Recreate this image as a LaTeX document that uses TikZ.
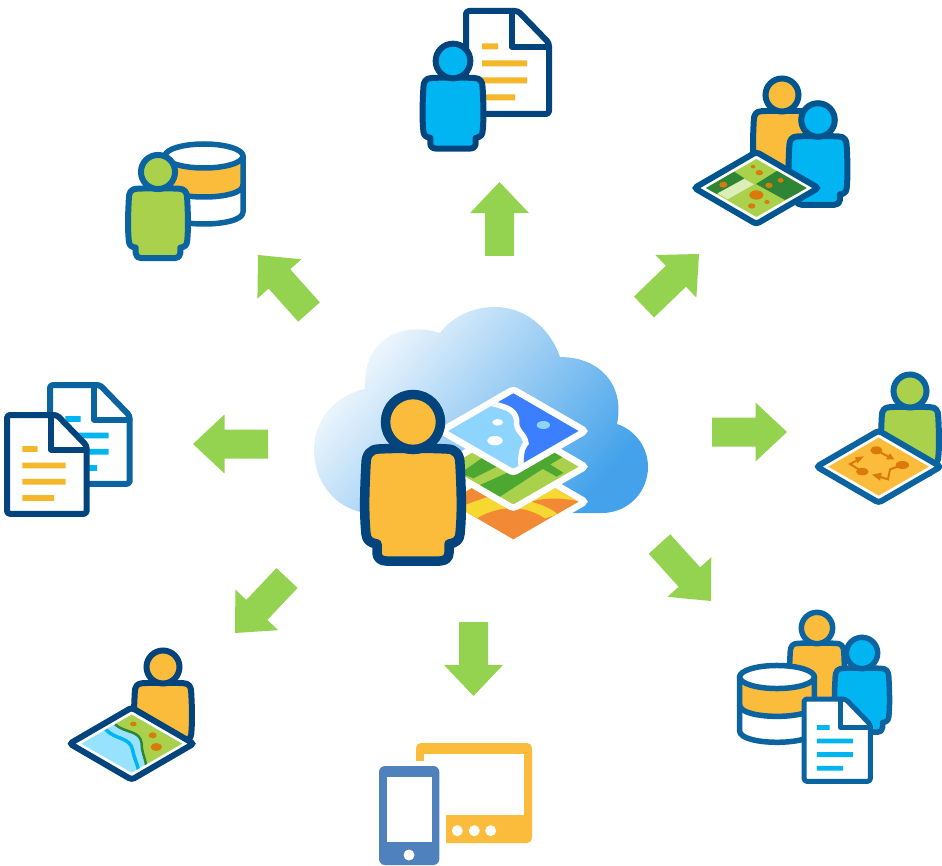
\documentclass[tikz,border=0pt]{standalone}
\usetikzlibrary{calc}
\definecolor{navy}{HTML}{03447C}
\definecolor{midblue}{HTML}{0B64A0}
\definecolor{deepblue}{HTML}{00558F}
\definecolor{orangefill}{HTML}{FBBC3C}
\definecolor{cyanfill}{HTML}{00B5F1}
\definecolor{greenfill}{HTML}{A9D14B}
\definecolor{darkgreen}{HTML}{2E8536}
\definecolor{roadgreen}{HTML}{4DA832}
\definecolor{dotorange}{HTML}{D97A0B}
\definecolor{arrowgreen}{HTML}{94D350}
\definecolor{lineyellow}{HTML}{F5B72A}
\definecolor{lakeblue}{HTML}{8DD4FF}
\definecolor{seablue}{HTML}{3B7EFF}
\definecolor{paleblue}{HTML}{97E2FF}
\definecolor{landorange}{HTML}{F28A35}
\definecolor{landyellow}{HTML}{F5D832}
\definecolor{phoneblue}{HTML}{4F81BD}
\definecolor{cloudlight}{HTML}{F8FBFE}
\definecolor{clouddark}{HTML}{44A2EA}
\tikzset{
  blockfill/.style={fill=arrowgreen},
  outline/.style={line join=round,line cap=round},
  stacklayer/.style={line width=6.5pt,draw=white,rounded corners=3pt},
}
% tail, tip
\newcommand{\blockarrow}[2]{%
  \path (#1) coordinate (T) (#2) coordinate (H);
  \coordinate (N) at ($(T)!0.58!(H)$);
  \fill[blockfill] ($(T)!14.5pt!90:(H)$) -- ($(N)!14.5pt!90:(H)$) -- ($(N)!29.5pt!90:(H)$) -- (H)
     -- ($(N)!29.5pt!-90:(H)$) -- ($(N)!14.5pt!-90:(H)$) -- ($(T)!14.5pt!-90:(H)$) -- cycle;
}
% x y scale lw fill stroke
\newcommand{\person}[6]{%
  \begin{scope}[shift={(#1,#2)},scale=#3]
    \filldraw[outline,line width=#4,draw=#6,fill=#5]
      (-34,27) .. controls (-16,26) and (16,26) .. (34,27)
      .. controls (43,27) and (47,33) .. (47,42)
      .. controls (48.5,70) and (49,92) .. (47,112)
      .. controls (46.5,118) and (43,121) .. (36,122)
      -- (36,131) .. controls (36,136) and (32,139) .. (27,139)
      -- (-27,139) .. controls (-32,139) and (-36,136) .. (-36,131)
      -- (-36,122) .. controls (-43,121) and (-46.5,118) .. (-47,112)
      .. controls (-49,92) and (-48.5,70) .. (-47,42)
      .. controls (-47,33) and (-43,27) .. (-34,27) -- cycle;
    \filldraw[line width=#4,draw=#6,fill=#5] (0,0) circle (27.5);
  \end{scope}}
% x y scale lw stroke linecolor
\newcommand{\docicon}[6]{%
  \begin{scope}[shift={(#1,#2)},scale=#3]
    \filldraw[outline,line width=#4,draw=#5,fill=white,rounded corners=3pt]
      (0,0) -- (52,0) -- (83,32) -- (83,103) -- (0,103) -- cycle;
    \draw[outline,line width=#4,draw=#5] (46,0) -- (46,36) -- (83,36);
    \fill[#6] (16,32.5) rectangle (32,38.5) (16,49.5) rectangle (61,55.5)
              (16,66.5) rectangle (61,72.5) (16,83.5) rectangle (49,89.5);
  \end{scope}}
% cx topy scale lw stroke
\newcommand{\dbicon}[5]{%
  \begin{scope}[shift={(#1,#2)},scale=#3]
    \fill[orangefill] (-39,0) .. controls (-39,16) and (39,16) .. (39,0) -- (39,29) .. controls (39,45) and (-39,45) .. (-39,29) -- cycle;
    \filldraw[outline,line width=#4,draw=#5,fill=white] (0,0) ellipse (39 and 12);
    \draw[outline,line width=#4,draw=#5] (-39,0) -- (-39,56) .. controls (-39,72) and (39,72) .. (39,56) -- (39,0);
    \draw[outline,line width=#4,draw=#5] (-39,29) .. controls (-39,45) and (39,45) .. (39,29);
  \end{scope}}
% cx cy stroke body  (coordinates in the scope are zoom units)
\newcommand{\mapd}[4]{%
  \filldraw[line width=6pt,draw=#3,fill=white,rounded corners=3pt]
    (#1-186,#2) -- (#1,#2-108) -- (#1+186,#2) -- (#1,#2+108) -- cycle;
  \begin{scope}
    \clip (#1-151,#2) -- (#1,#2-87) -- (#1+151,#2) -- (#1,#2+87) -- cycle;
    #4
  \end{scope}}
\newcommand{\mapdot}[3]{\fill[dotorange] (#1,#2) ellipse (#3);}
\begin{document}
\begin{tikzpicture}[x=1pt,y=-1pt]
\useasboundingbox (0,0) rectangle (942,866);

% ---------- block arrows
\blockarrow{499.5,256}{499.5,182}
\blockarrow{473.5,622}{473.5,696}
\blockarrow{712,432}{787,432}
\blockarrow{268,444}{193,444}
\blockarrow{644,307}{699,254}
\blockarrow{309,312}{258,255}
\blockarrow{659.5,544}{711,601}
\blockarrow{287,578}{235,633}

% ---------- cloud
\shade[left color=cloudlight,right color=clouddark,shading angle=50]
  (365,389) .. controls (335,395) and (314,420) .. (314,450)
  .. controls (314,482) and (335,508) .. (365,513) -- (602,513)
  .. controls (628,513) and (648,492) .. (648,467)
  .. controls (648,447) and (635,430) .. (617,424)
  .. controls (625,385) and (600,357) .. (560,357)
  .. controls (550,328) and (525,307) .. (495,307)
  .. controls (472,307) and (452,317) .. (440,333)
  .. controls (405,322) and (363,335) .. (365,389) -- cycle;

% ---------- central map stack (zoom units)
\begin{scope}[shift={(300,300)},scale=1/3]
  % bottom layer
  \filldraw[stacklayer,fill=white]
    (424,605) -- (640,480) -- (856,605) -- (640,730) -- cycle;
  \begin{scope}
    \clip (445,605) -- (640,492) -- (835,605) -- (640,718) -- cycle;
    \fill[landorange] (430,470) rectangle (850,730);
    \fill[landyellow] (470,625) .. controls (530,600) and (570,592) .. (640,560)
       -- (850,470) -- (850,610) -- (775,642) -- (735,655)
       .. controls (660,605) and (580,625) .. (530,655) -- (470,640) -- cycle;
    \fill[landorange] (695,605) .. controls (740,590) and (800,595) .. (840,605)
       -- (780,650) .. controls (765,630) and (730,615) .. (695,605) -- cycle;
  \end{scope}
  % middle layer
  \filldraw[stacklayer,fill=greenfill]
    (424,500) -- (640,375) -- (856,500) -- (640,625) -- cycle;
  \begin{scope}
    \clip (445,500) -- (640,387) -- (835,500) -- (640,613) -- cycle;
    \fill[roadgreen] (480,520) -- (545,475) -- (590,500) -- (520,535) -- (495,525) -- cycle;
    \fill[roadgreen] (540,555) -- (640,510) -- (765,458) -- (790,470) -- (712,517) -- (600,590) -- cycle;
    \fill[roadgreen] (725,505) -- (745,490) -- (790,518) -- (770,530) -- cycle;
  \end{scope}
  % top layer
  \filldraw[stacklayer,fill=lakeblue]
    (424,393) -- (640,268) -- (856,393) -- (640,518) -- cycle;
  \begin{scope}
    \clip (445,393) -- (640,280) -- (835,393) -- (640,506) -- cycle;
    \fill[seablue] (585,305) .. controls (620,320) and (650,325) .. (655,360)
      .. controls (650,395) and (680,400) .. (682,430)
      .. controls (670,450) and (672,480) .. (672,500) -- (850,500) -- (850,280) -- (585,280) -- cycle;
    \draw[white,line width=5.5pt] (575,310) .. controls (610,320) and (645,325) .. (650,360)
      .. controls (645,395) and (675,400) .. (678,430)
      .. controls (660,450) and (662,480) .. (664,510);
    \fill[white] (593,367) ellipse (16 and 10) (585,422) ellipse (23 and 14);
    \fill[lakeblue] (730,375) ellipse (20 and 12);
  \end{scope}
\end{scope}
\person{413}{422}{1}{9.5pt}{orangefill}{navy}

% ---------- top: person and document
\docicon{466}{11}{1}{6pt}{navy}{lineyellow}
\person{453}{61}{0.63}{6pt}{cyanfill}{navy}

% ---------- top right: two people and map
\person{782}{95}{0.6}{6pt}{orangefill}{deepblue}
\person{818}{120}{0.61}{6pt}{cyanfill}{deepblue}
\begin{scope}[shift={(680,60)},scale=1/3]
  \mapd{229}{384}{deepblue}{%
    \fill[greenfill] (70,290) rectangle (390,480);
    \fill[darkgreen] (70,380) -- (160,333) -- (193,355) -- (110,402) -- cycle;
    \fill[darkgreen] (228,372) -- (295,330) -- (390,382) -- (315,420) -- cycle;
    \fill[greenfill!40!white] (113,400) -- (193,357) -- (222,373) -- (143,418) -- cycle;
    \mapdot{130}{374}{12 and 9}
    \mapdot{238}{338}{11 and 8}
    \mapdot{219}{320}{7 and 5}
    \mapdot{267}{376}{11 and 8}
    \mapdot{302}{361}{9 and 7}
    \mapdot{229}{405}{21 and 14}
    \mapdot{215}{438}{11 and 8}
    \mapdot{261}{426}{8 and 6}
  }
\end{scope}

% ---------- right: person and route map
\person{910}{391}{0.6}{6pt}{greenfill}{midblue}
\begin{scope}[shift={(800,360)},scale=1/3]
  \mapd{236}{320}{midblue}{%
    \fill[orangefill] (70,220) rectangle (400,420);
    \mapdot{229}{271}{18 and 12}
    \draw[dotorange,line width=2pt] (229,271) -- (268,291);
    \fill[dotorange] (283,298) -- (258,298) -- (270,280) -- cycle;
    \mapdot{187}{335}{19 and 11}
    \draw[dotorange,line width=2pt] (187,335) -- (150,312) -- (178,298);
    \fill[dotorange] (192,289) -- (165,292) -- (172,310) -- cycle;
    \mapdot{307}{315}{20 and 12}
    \draw[dotorange,line width=2pt] (307,315) -- (270,328) -- (264,358) -- (232,348);
    \fill[dotorange] (216,344) -- (245,338) -- (240,362) -- cycle;
  }
\end{scope}

% ---------- bottom right: people, database and document
\person{817}{628}{0.57}{5.5pt}{orangefill}{midblue}
\person{862}{653}{0.57}{5.5pt}{cyanfill}{midblue}
\dbicon{777}{677}{0.96}{5.5pt}{midblue}
\docicon{804}{699}{0.8}{5pt}{midblue}{cyanfill}

% ---------- bottom: devices
\fill[orangefill,rounded corners=5pt] (416,743) rectangle (532,843);
\fill[white] (410,761) rectangle (446,850);
\fill[white] (424,754) rectangle (524,815);
\fill[white] (457.3,830.7) circle (5.5) (474.3,830.7) circle (5.5) (490.7,830.7) circle (5.5);
\fill[phoneblue,rounded corners=6pt] (379,766) rectangle (439.3,865);
\fill[white] (386.7,777.3) rectangle (431.7,842.3);
\fill[white] (409,855) circle (5.5);

% ---------- bottom left: person and river map
\person{163}{667}{0.6}{6pt}{orangefill}{navy}
\begin{scope}[shift={(60,640)},scale=1/3]
  \mapd{215}{311}{navy}{%
    \fill[paleblue] (50,210) rectangle (380,410);
    \fill[greenfill] (165,253) .. controls (195,280) and (240,270) .. (245,310)
       .. controls (245,340) and (255,350) .. (258,375) -- (400,410) -- (400,210) -- (165,210) -- cycle;
    \draw[cyanfill,line width=3.5pt] (137,268) .. controls (165,300) and (210,290) .. (218,330) .. controls (222,355) and (232,370) .. (236,392);
    \draw[darkgreen,line width=2.5pt] (165,253) .. controls (195,280) and (240,270) .. (245,310) .. controls (245,340) and (255,350) .. (258,375);
    \mapdot{220}{252}{10 and 7}
    \mapdot{278}{286}{12 and 9}
    \mapdot{289}{321}{17 and 12}
  }
\end{scope}

% ---------- left: documents
\docicon{50}{385}{0.96}{6pt}{midblue}{cyanfill}
\docicon{7}{415}{0.96}{6pt}{navy}{lineyellow}

% ---------- top left: person and database
\dbicon{204}{156}{1}{5.5pt}{midblue}
\person{158}{172}{0.62}{6pt}{greenfill}{midblue}
\end{tikzpicture}
\end{document}
